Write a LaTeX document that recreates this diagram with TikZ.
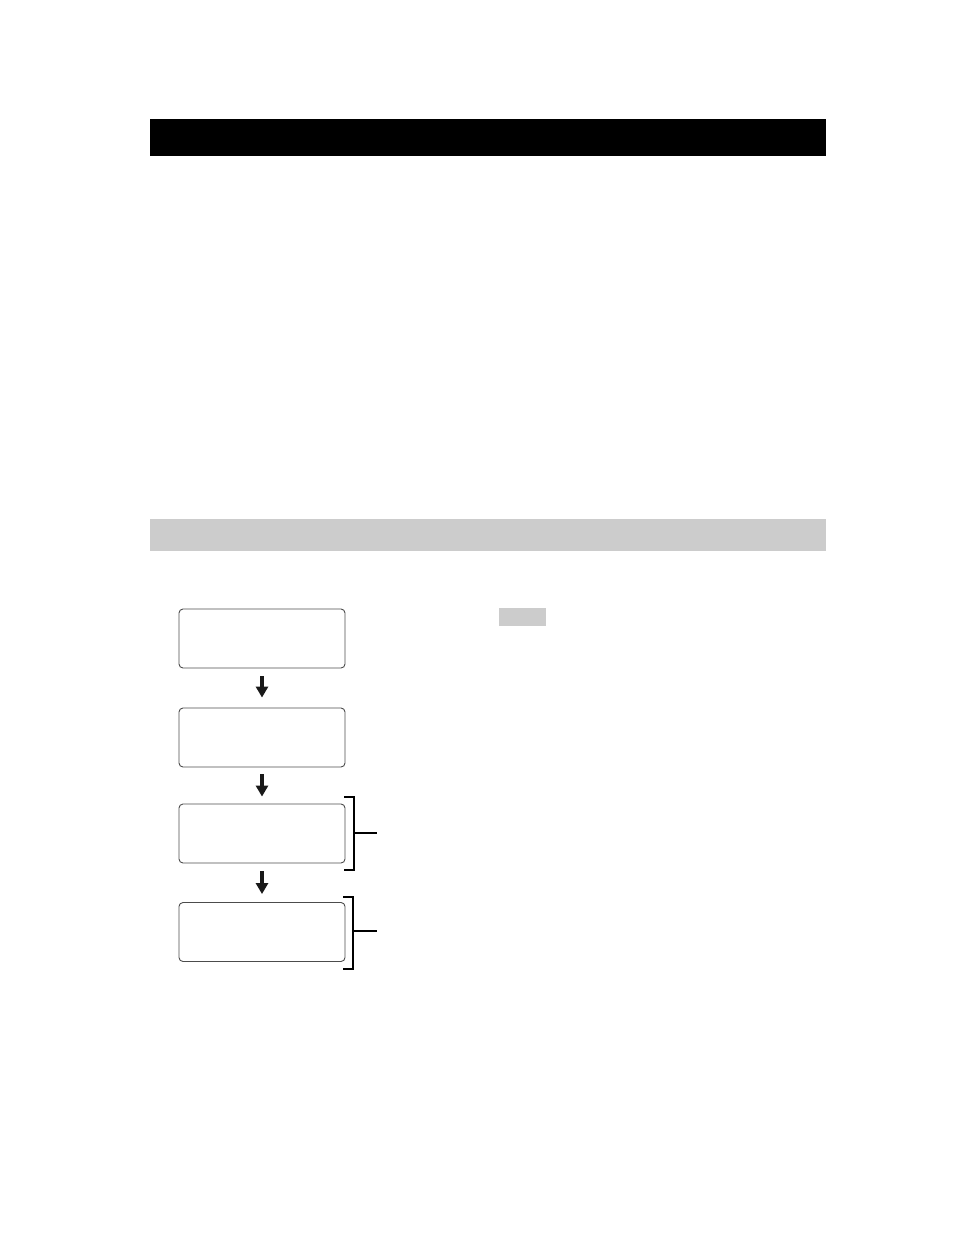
\documentclass[tikz,border=0pt]{standalone}
\usetikzlibrary{arrows.meta}
\begin{document}
\begin{tikzpicture}[x=1pt,y=-1pt,
  stepbox/.style={draw=black!70,line width=0.9pt,rounded corners=4pt,minimum width=166pt,minimum height=59pt,inner sep=0pt},
  flowarrow/.style={line width=4pt,-{Triangle[width=12pt,length=11pt]},black!90},
  brk/.style={line width=1.1pt,black}]
\useasboundingbox (0,0) rectangle (954,1235);
\fill[black] (150,119) rectangle (826,156);
\fill[black!20] (150,519) rectangle (826,551);
\fill[black!20] (499,608) rectangle (546,626);
\node[stepbox] (b1) at (262,638.5) {};
\node[stepbox] (b2) at (262,737.5) {};
\node[stepbox] (b3) at (262,833.5) {};
\node[stepbox] (b4) at (262,932) {};
\draw[flowarrow,shorten <=8pt,shorten >=10pt] (b1.south) -- (b2.north);
\draw[flowarrow,shorten <=7pt,shorten >=7pt] (b2.south) -- (b3.north);
\draw[flowarrow,shorten <=8pt,shorten >=8pt] (b3.south) -- (b4.north);
\coordinate (k1) at (354,833);
\coordinate (k2) at (353,931);
\draw[brk] (344,797) -- (354,797) -- (354,870) -- (344,870);
\draw[brk] (k1) -- (377,833);
\draw[brk] (343,897) -- (353,897) -- (353,969) -- (343,969);
\draw[brk] (k2) -- (377,931);
\end{tikzpicture}
\end{document}
